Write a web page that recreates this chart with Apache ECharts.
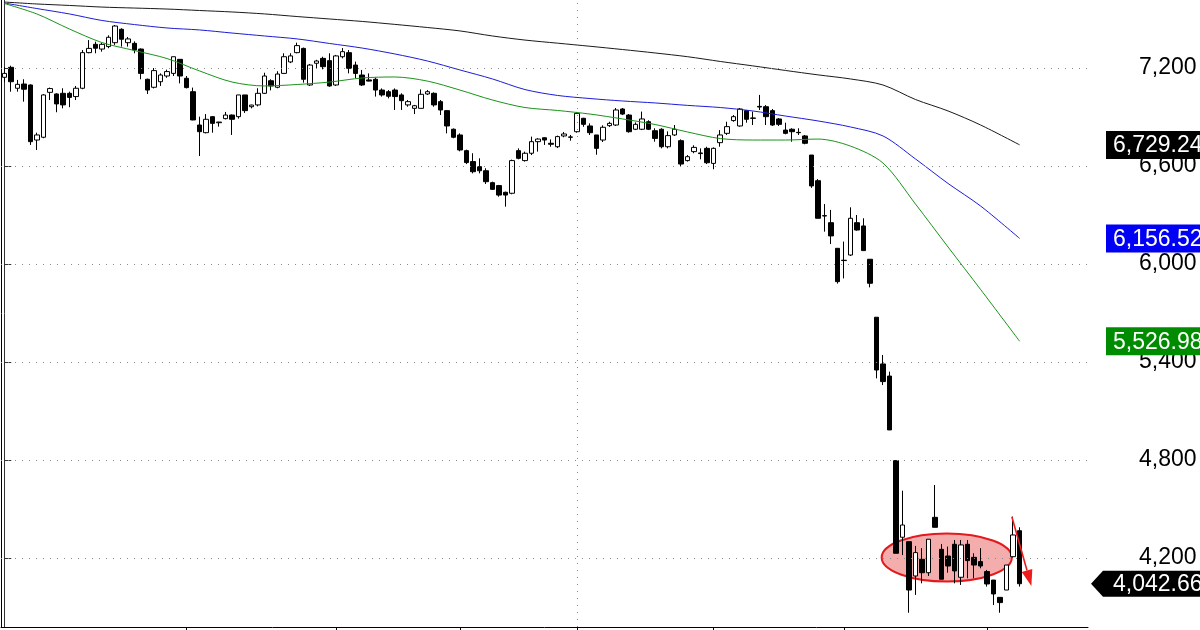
<!DOCTYPE html>
<html><head><meta charset="utf-8">
<script src="https://cdn.jsdelivr.net/npm/echarts@6/dist/echarts.min.js"></script>
<style>html,body{margin:0;padding:0;background:#fff}#c{width:1200px;height:630px}</style>
</head><body><div id="c"></div>
<script>
// ---------- DATA ----------
const totalSlots = 167; // 157 trading days + empty space to the right
const categories = Array.from({length: totalSlots}, (_, i) => String(i + 1));

const opens = [
7143,7204,7076,7102,7096,6759,6776,7051,7041,7045,
7045,7025,7076,7294,7345,7316,7331,7355,7437,7355,
7351,7316,7131,7082,7116,7151,7167,7253,7137,7055,
6851,6804,6902,6865,6890,6912,6902,7035,6963,6974,
7045,7122,7082,7167,7237,7294,7320,7096,7229,7259,
7245,7096,7269,7294,7218,7157,7127,7131,7065,7055,
7065,7035,6974,6953,6953,7041,7045,6994,6939,6825,
6790,6694,6627,6596,6571,6498,6480,6439,6433,6694,
6633,6678,6749,6773,6739,6718,6784,6778,6810,6892,
6845,6790,6759,6847,6851,6949,6912,6825,6825,6871,
6816,6825,6718,6790,6755,6633,6688,6680,6708,6616,
6743,6800,6878,6845,6939,6894,6965,6963,6939,6888,
6820,6825,6806,6784,6667,6510,6296,6253,6096,6023,
6055,6253,6233,6029,5674,5388,5314,4796,4327,4300,
4090,4192,4110,4449,4253,4212,4284,4082,4284,4204,
4178,4117,4065,3959,4004,4208,4367];
const closes = [
7167,7116,7100,7070,6749,6790,7035,7074,6980,6974,
7020,7076,7294,7320,7321,7345,7388,7457,7376,7378,
7310,7167,7065,7184,7157,7178,7269,7151,7080,6882,
6810,6886,6861,6869,6912,6886,7035,6939,6973,7045,
7151,7090,7163,7269,7274,7337,7131,7218,7243,7208,
7090,7274,7300,7198,7167,7096,7120,7065,7035,7027,
7025,7000,6994,6969,7039,7055,6974,6943,6845,6776,
6698,6621,6565,6571,6504,6457,6422,6422,6633,6647,
6678,6749,6765,6759,6733,6780,6796,6776,6922,6855,
6804,6708,6837,6861,6943,6918,6810,6855,6888,6825,
6769,6718,6786,6825,6612,6657,6714,6676,6620,6708,
6790,6841,6902,6949,6886,6892,6961,6902,6851,6855,
6800,6810,6804,6739,6478,6280,6294,6172,5892,6021,
6280,6208,6082,5882,5351,5280,4984,4229,4402,4004,
4233,4110,4315,4388,4070,4151,4121,4280,4184,4157,
4151,4041,3980,3927,4157,4341,4042.66];
const highs = [
7206,7214,7127,7131,7100,6804,7040,7080,7045,7076,
7055,7090,7310,7371,7361,7355,7400,7463,7443,7390,
7363,7320,7135,7200,7167,7190,7269,7253,7151,7080,
6902,6918,6905,6870,6931,6915,7035,7035,6975,7076,
7171,7131,7180,7290,7290,7355,7325,7225,7250,7269,
7290,7280,7322,7310,7239,7188,7167,7141,7075,7065,
7075,7045,7004,6974,7069,7065,7051,7004,6943,6830,
6800,6700,6678,6647,6586,6504,6484,6443,6639,6708,
6688,6780,6770,6775,6763,6786,6808,6790,6931,6895,
6861,6790,6849,6871,6955,6955,6918,6867,6933,6880,
6831,6831,6812,6851,6763,6667,6727,6708,6718,6714,
6820,6871,6912,6955,6943,6933,7035,6973,6949,6894,
6865,6831,6831,6790,6667,6520,6367,6331,6096,6137,
6347,6300,6280,6029,5674,5443,5341,4800,4612,4300,
4274,4260,4315,4647,4286,4270,4310,4310,4310,4229,
4260,4127,4065,3959,4157,4453,4388];
const lows = [
7114,7055,7055,6994,6729,6698,6770,7004,6929,6953,
6960,7004,7070,7290,7290,7300,7321,7341,7331,7331,
7290,7131,7041,7075,7090,7140,7151,7106,7075,6880,
6661,6800,6804,6841,6885,6790,6890,6925,6953,6965,
7041,7063,7076,7163,7230,7290,7110,7090,7200,7192,
7085,7090,7259,7167,7137,7090,7118,7025,7025,7014,
6943,6943,6963,6918,6953,7035,6963,6912,6800,6770,
6690,6612,6555,6555,6490,6453,6412,6351,6427,6641,
6627,6667,6688,6729,6718,6710,6776,6755,6804,6840,
6790,6669,6747,6839,6845,6912,6804,6820,6820,6820,
6749,6708,6708,6784,6600,6627,6678,6641,6612,6580,
6718,6790,6871,6841,6865,6851,6943,6851,6845,6845,
6794,6749,6790,6733,6466,6280,6198,6122,5880,5912,
6049,6204,6082,5857,5300,5259,4984,4229,4218,3865,
3974,4045,4090,4388,4070,4110,4045,4035,4076,4076,
4137,4025,3912,3865,4004,4204,4025];

// moving averages at these candle indices
const maIdx   = [0,5,10,15,20,25,30,35,40,45,50,55,60,65,70,75,80,85,90,95,100,105,110,115,120,125,130,135,140,145,150,156];
const maBlack = [7604,7592,7583,7573,7567,7561,7552,7543,7531,7515,7500,7485,7467,7448,7427,7396,7371,7352,7333,7313,7292,7269,7240,7213,7185,7158,7133,7096,7007,6937,6851,6729.24];
const maBlue  = [7598,7564,7531,7491,7466,7445,7433,7414,7396,7378,7350,7322,7286,7243,7188,7133,7068,7032,7013,6998,6986,6971,6958,6937,6906,6876,6839,6784,6643,6493,6355,6156.52];
const maGreen = [7595,7531,7439,7356,7307,7258,7182,7114,7090,7099,7114,7139,7145,7120,7065,7004,6958,6940,6918,6888,6854,6808,6768,6759,6759,6765,6722,6618,6367,6104,5844,5526.98];

const yTicks = [4200, 4800, 5400, 6000, 6600, 7200];
const xTickIdx = [28, 51, 70, 88, 109, 129, 151];
const dividerIdx = 88;
const lastPrice = 4042.66;

// annotation (in category-index / price units)
const ellipseSpec = {cx: 144.8, cy: 4203, rx: 10, ry: 147};
const arrowSpec = {x1: 154.8, y1: 4453, x2: 157.8, y2: 4029};

// ---------- CHART ----------
const FONT = '"Liberation Sans", Arial, sans-serif';
const candleData = opens.map((o, i) => [o, closes[i], lows[i], highs[i]]);
const pairs = arr => maIdx.map((ix, k) => [ix, arr[k]]);
const fmt = (v, d) => v.toLocaleString('en-US', {minimumFractionDigits: d, maximumFractionDigits: d});

const chart = echarts.init(document.getElementById('c'), null, {renderer: 'canvas'});
const yMin = 3777.6, yMax = 7616.3;
const grid = {left: 1, right: 112, top: 0, bottom: 3};

const option = {
  animation: false,
  backgroundColor: '#fff',
  grid: grid,
  xAxis: [
    {type: 'category', data: categories, boundaryGap: true, position: 'bottom',
     axisLine: {show: true, lineStyle: {color: '#000', width: 1}},
     axisTick: {show: true, alignWithLabel: true, length: 6, interval: (i) => xTickIdx.includes(i), lineStyle: {color: '#000'}},
     axisLabel: {show: false}, splitLine: {show: false}},
    {type: 'value', min: -0.5, max: totalSlots - 0.5, show: false}
  ],
  yAxis: [
    {type: 'value', position: 'right', min: yMin, max: yMax, scale: true,
     axisLine: {show: true, lineStyle: {color: '#333', width: 1}},
     axisTick: {show: true, customValues: yTicks, length: 7, lineStyle: {color: '#333'}},
     axisLabel: {show: true, customValues: yTicks, formatter: v => fmt(v, 0), color: '#000', fontSize: 23, fontFamily: FONT, margin: 51},
     splitLine: {show: false}},
    {type: 'value', position: 'left', min: yMin, max: yMax, scale: true,
     axisLine: {show: true, lineStyle: {color: '#000', width: 1}},
     axisTick: {show: false}, axisLabel: {show: false}, splitLine: {show: false}}
  ],
  series: [
    {type: 'line', xAxisIndex: 0, yAxisIndex: 0, data: [], silent: true, z: 1,
     markLine: {silent: true, symbol: 'none', animation: false, label: {show: false},
       lineStyle: {color: '#8a8a8a', type: [1, 6], width: 1},
       data: yTicks.map(v => ({yAxis: v})).concat([{xAxis: dividerIdx}])}},
    {type: 'custom', xAxisIndex: 1, yAxisIndex: 0, z: 1, silent: true,
     data: [[ellipseSpec.cx, ellipseSpec.cy]],
     renderItem: (params, api) => {
       const c = api.coord([ellipseSpec.cx, ellipseSpec.cy]);
       const s = api.size([ellipseSpec.rx, ellipseSpec.ry]);
       return {type: 'ellipse', shape: {cx: c[0], cy: c[1], rx: s[0], ry: s[1]},
               style: {fill: '#f4adad', stroke: '#e3191c', lineWidth: 2}};
     }},
    {type: 'candlestick', xAxisIndex: 0, yAxisIndex: 0, data: candleData, barWidth: 5, z: 2,
     itemStyle: {color: '#ffffff', color0: '#000000', borderColor: '#000000', borderColor0: '#000000', borderWidth: 1}},
    {type: 'line', xAxisIndex: 1, yAxisIndex: 0, data: pairs(maBlack), showSymbol: false, smooth: 0.3, z: 3,
     lineStyle: {color: '#1a1a1a', width: 1}},
    {type: 'line', xAxisIndex: 1, yAxisIndex: 0, data: pairs(maBlue), showSymbol: false, smooth: 0.3, z: 3,
     lineStyle: {color: '#1c1cd8', width: 1}},
    {type: 'line', xAxisIndex: 1, yAxisIndex: 0, data: pairs(maGreen), showSymbol: false, smooth: 0.3, z: 3,
     lineStyle: {color: '#1a931a', width: 1}},
    {type: 'custom', xAxisIndex: 1, yAxisIndex: 0, z: 5, silent: true,
     data: [[arrowSpec.x1, arrowSpec.y1]],
     renderItem: (params, api) => {
       const p1 = api.coord([arrowSpec.x1, arrowSpec.y1]);
       const p2 = api.coord([arrowSpec.x2, arrowSpec.y2]);
       const dx = p2[0] - p1[0], dy = p2[1] - p1[1];
       const L = Math.sqrt(dx * dx + dy * dy), ux = dx / L, uy = dy / L;
       const hl = 16, hw = 5.5;
       const bx = p2[0] - ux * hl, by = p2[1] - uy * hl;
       return {type: 'group', children: [
         {type: 'line', shape: {x1: p1[0], y1: p1[1], x2: bx, y2: by}, style: {stroke: '#ee1c1c', lineWidth: 1.6}},
         {type: 'polygon', shape: {points: [[p2[0], p2[1]], [bx - uy * hw, by + ux * hw], [bx + uy * hw, by - ux * hw]]},
          style: {fill: '#ee1c1c'}}
       ]};
     }}
  ]
};
chart.setOption(option);

// value tags on the price axis, placed through the library's scale
const axisX = chart.convertToPixel({xAxisIndex: 1}, totalSlots - 0.5);
const W = chart.getWidth();
const tags = [
  {v: maBlack[maBlack.length - 1], bg: '#000000'},
  {v: maBlue[maBlue.length - 1], bg: '#0000f5'},
  {v: maGreen[maGreen.length - 1], bg: '#008c00'}
];
const g = [];
tags.forEach(t => {
  const y = chart.convertToPixel({yAxisIndex: 0}, t.v);
  g.push({type: 'rect', z: 100, shape: {x: axisX + 18, y: y - 14, width: W - axisX - 18, height: 28}, style: {fill: t.bg}});
  g.push({type: 'text', z: 101, x: axisX + 25, y: y + 1,
          style: {text: fmt(t.v, 2), fill: '#fff', font: '23px ' + FONT, textVerticalAlign: 'middle', verticalAlign: 'middle'}});
});
{
  const y = chart.convertToPixel({yAxisIndex: 0}, lastPrice);
  g.push({type: 'polygon', z: 100, shape: {points: [[axisX + 3, y], [axisX + 15, y - 13], [W, y - 13], [W, y + 13], [axisX + 15, y + 13]]},
          style: {fill: '#000'}});
  g.push({type: 'text', z: 101, x: axisX + 25, y: y + 1,
          style: {text: fmt(lastPrice, 2), fill: '#fff', font: '23px ' + FONT, textVerticalAlign: 'middle', verticalAlign: 'middle'}});
}
chart.setOption({graphic: g});
</script>
</body></html>
